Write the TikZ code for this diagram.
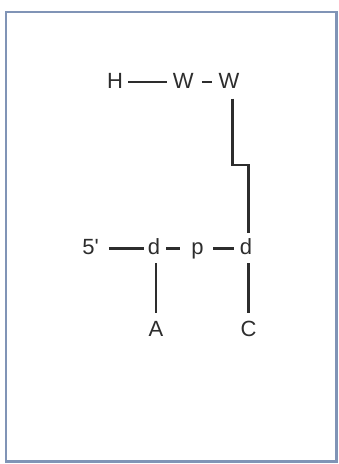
\documentclass[tikz,border=0pt]{standalone}
\usepackage{fontspec}
\newfontfamily\labfont{Liberation Sans}
\definecolor{framecol}{RGB}{128,148,182}
\definecolor{inkcol}{RGB}{45,45,45}
\begin{document}
\begin{tikzpicture}[x=1pt,y=-1pt,
  lab/.style={inner sep=0pt, anchor=base, text height=12pt, text depth=0pt,
    font=\labfont\fontsize{22}{26}\selectfont, text=inkcol},
  bond/.style={draw=inkcol, line width=2.1pt}]
\useasboundingbox (0,0) rectangle (339,464);
\draw[framecol, line width=2.2pt] (6,12) rectangle (336.5,461.5);
% top row
\node[lab] (H)  at (115,88) {H};
\node[lab] (W1) at (183.3,88) {W};
\node[lab] (W2) at (229,88) {W};
% lower row
\node[lab] (f)  at (90.5,254.5) {5'};
\node[lab] (d1) at (154,254.5) {d};
\node[lab] (p)  at (197.5,254.5) {p};
\node[lab] (d2) at (246,254.5) {d};
\node[lab] (A)  at (156,336) {A};
\node[lab] (C)  at (248.5,336) {C};
\coordinate (k1) at (232.5,165);
\coordinate (k2) at (248.5,165);
% connectors
\draw[bond, shorten <=5.3pt, shorten >=6.2pt] (H.east) -- (W1.west);
\draw[bond, shorten <=8pt, shorten >=6.9pt] (W1.east) -- (W2.west);
\draw[bond, line join=miter, shorten <=10.5pt, shorten >=9.5pt]
  ([xshift=3.5pt]W2.south) -- (k1) -- (k2) -- ([xshift=2.5pt]d2.north);
\draw[bond, shorten <=10pt, shorten >=3.2pt] (f.east) -- (d1.west);
\draw[bond, shorten <=5.9pt, shorten >=11.4pt] (d1.east) -- (p.west);
\draw[bond, shorten <=9.4pt, shorten >=5.9pt] (p.east) -- (d2.west);
\draw[bond, shorten <=8.5pt, shorten >=11pt] ([xshift=2pt]d1.south) -- (A.north);
\draw[bond, shorten <=8.5pt, shorten >=11pt] ([xshift=2.5pt]d2.south) -- (C.north);
\end{tikzpicture}
\end{document}
